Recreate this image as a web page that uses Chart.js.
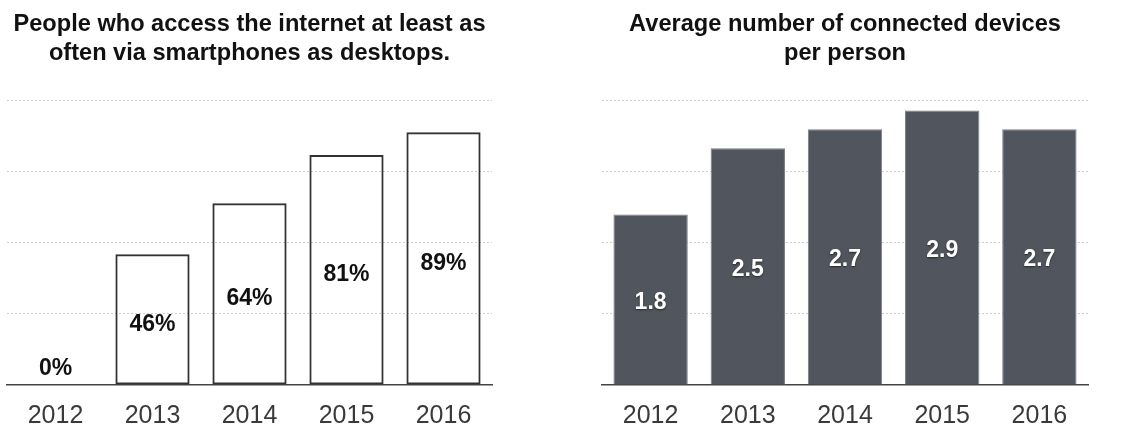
<!DOCTYPE html>
<html>
<head>
<meta charset="utf-8">
<script src="https://cdn.jsdelivr.net/npm/chart.js@4.4.1/dist/chart.umd.min.js"></script>
<style>
  html, body { margin: 0; padding: 0; background: #fff; }
  body { width: 1128px; height: 438px; position: relative; overflow: hidden; }
  .box { position: absolute; top: 0; width: 564px; height: 438px; }
  #left { left: 0; }
  #right { left: 564px; }
</style>
</head>
<body>
<div class="box" id="left"><canvas id="mobileChart"></canvas></div>
<div class="box" id="right"><canvas id="devicesChart"></canvas></div>
<script>
const years = ['2012', '2013', '2014', '2015', '2016'];
const mobileShare = [0, 46, 64, 81, 89];
const devicesPerPerson = [1.8, 2.5, 2.7, 2.9, 2.7];

const mobileTitle = ['People who access the internet at least as', 'often via smartphones as desktops.'];
const devicesTitle = ['Average number of connected devices', 'per person'];

const FONT = '"Liberation Sans", Arial, Helvetica, sans-serif';

// writes each bar's value roughly in the middle of the bar
function valueLabels(format, color, shadow, shift) {
  return {
    id: 'valueLabels',
    afterDatasetsDraw(chart) {
      const ctx = chart.ctx;
      const meta = chart.getDatasetMeta(0);
      const data = chart.data.datasets[0].data;
      ctx.save();
      ctx.font = 'bold 23px ' + FONT;
      ctx.textAlign = 'center';
      ctx.textBaseline = 'middle';
      ctx.fillStyle = color;
      if (shadow) {
        ctx.shadowColor = 'rgba(0,0,0,0.55)';
        ctx.shadowBlur = 2;
        ctx.shadowOffsetY = 1;
      }
      meta.data.forEach((bar, i) => {
        let y = (bar.y + bar.base) / 2 + shift;
        if (data[i] === 0) y = bar.base - 16;
        ctx.fillText(format(data[i]), bar.x, y);
      });
      ctx.restore();
    }
  };
}

function baseOptions(title, yMax, yStep, padLeft, padRight) {
  return {
    responsive: true,
    maintainAspectRatio: false,
    animation: false,
    layout: { padding: { left: padLeft, right: padRight, top: 0, bottom: 0 } },
    plugins: {
      legend: { display: false },
      tooltip: { enabled: false },
      title: {
        display: true,
        text: title,
        color: '#111',
        font: { family: FONT, size: 23.6, weight: 'bold', lineHeight: 1.27 },
        padding: { top: 9, bottom: 32 }
      }
    },
    scales: {
      x: {
        afterFit(scale) { scale.height = 53; },
        grid: { display: false, drawTicks: false },
        border: { display: true, color: '#444', width: 1.5 },
        ticks: { color: '#3a3a3a', padding: 19, font: { family: FONT, size: 25, lineHeight: 1 } }
      },
      y: {
        min: 0,
        max: yMax,
        afterFit(scale) { scale.width = 0; },
        ticks: { display: false, stepSize: yStep },
        border: { display: false, dash: [2, 2] },
        grid: {
          drawTicks: false,
          color: (c) => (c.tick && c.tick.value === 0 ? 'rgba(0,0,0,0)' : '#cfcfcf'),
          lineWidth: 1
        }
      }
    }
  };
}

new Chart(document.getElementById('mobileChart'), {
  type: 'bar',
  data: {
    labels: years,
    datasets: [{
      data: mobileShare,
      backgroundColor: 'rgba(255,255,255,0)',
      borderColor: '#333',
      borderWidth: (c) => (c.raw === 0 ? 0 : 2),
      borderSkipped: false,
      categoryPercentage: 1,
      barPercentage: 0.765
    }]
  },
  options: baseOptions(mobileTitle, 100, 25, 7, 72),
  plugins: [valueLabels((v) => v + '%', '#111', false, 5)]
});

new Chart(document.getElementById('devicesChart'), {
  type: 'bar',
  data: {
    labels: years,
    datasets: [{
      data: devicesPerPerson,
      backgroundColor: '#51555d',
      borderColor: '#7a7e85',
      borderWidth: 1,
      borderSkipped: 'start',
      categoryPercentage: 1,
      barPercentage: 0.765
    }]
  },
  options: baseOptions(devicesTitle, 3, 0.75, 38, 40),
  plugins: [valueLabels((v) => v.toFixed(1), '#fff', true, 3)]
});
</script>
</body>
</html>
